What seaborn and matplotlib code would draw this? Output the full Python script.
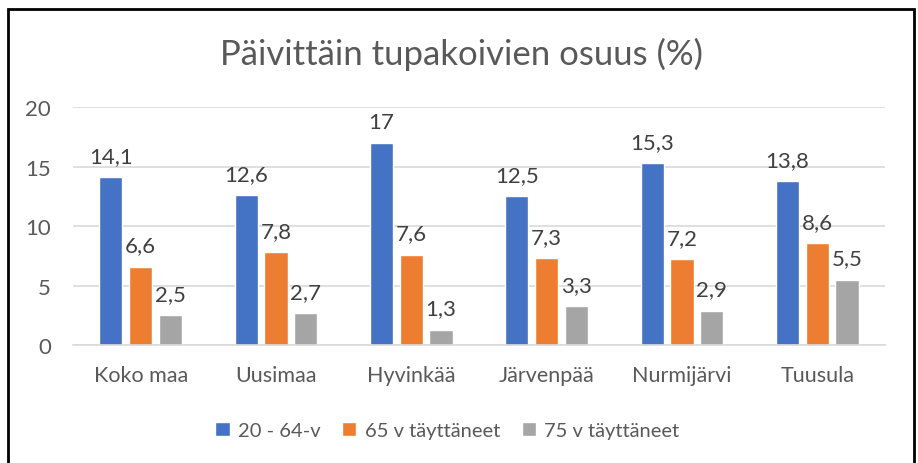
import pandas as pd
import matplotlib.pyplot as plt
import seaborn as sns
from matplotlib.patches import Rectangle

areas = ['Koko maa', 'Uusimaa', 'Hyvinkää', 'Järvenpää', 'Nurmijärvi', 'Tuusula']
series = ['20 - 64-v', '65 v täyttäneet', '75 v täyttäneet']
v_20_64 = [14.1, 12.6, 17, 12.5, 15.3, 13.8]
v_65 = [6.6, 7.8, 7.6, 7.3, 7.2, 8.6]
v_75 = [2.5, 2.7, 1.3, 3.3, 2.9, 5.5]
colors = ['#4472C4', '#ED7D31', '#A5A5A5']

rows = []
for s, vals in zip(series, [v_20_64, v_65, v_75]):
    for a, v in zip(areas, vals):
        rows.append({'alue': a, 'ryhmä': s, 'osuus': v})
df = pd.DataFrame(rows)

sns.set_style('white')
plt.rcParams['font.family'] = ['Lato', 'DejaVu Sans']
txt = '#595959'

fig = plt.figure(figsize=(9.18, 4.64), dpi=100)
ax = fig.add_axes([0.0795, 0.254, 0.8845, 0.513])

sns.barplot(data=df, x='alue', y='osuus', hue='ryhmä', palette=colors,
            width=0.66, gap=0.22, ax=ax, legend=True, saturation=1)

# arvot pilkulla
for cont in ax.containers:
    labels = []
    for bar in cont:
        h = bar.get_height()
        s = f'{h:g}'.replace('.', ',')
        labels.append(s)
    ax.bar_label(cont, labels=labels, padding=8, fontsize=16, color='#404040')

ax.set_ylim(0, 20)
ax.set_yticks([0, 5, 10, 15, 20])
ax.yaxis.grid(True, color='#D9D9D9', linewidth=1.2)
ax.set_axisbelow(True)
for sp in ['top', 'right', 'left']:
    ax.spines[sp].set_visible(False)
ax.spines['bottom'].set_color('#D9D9D9')
ax.spines['bottom'].set_linewidth(1.2)
ax.tick_params(axis='both', length=0, colors=txt)
ax.tick_params(axis='x', pad=14, labelsize=15.5)
ax.tick_params(axis='y', pad=16, labelsize=16)
ax.set_xlabel('')
ax.set_ylabel('')

ax.legend(loc='center', bbox_to_anchor=(0.461, -0.36), ncol=3, frameon=False,
          fontsize=14.5, labelcolor=txt, handlelength=0.7, handleheight=0.7,
          handletextpad=0.4, columnspacing=1.1)

fig.text(0.503, 0.882, 'Päivittäin tupakoivien osuus (%)', ha='center', va='center',
         fontsize=25, color=txt)

fig.patches.append(Rectangle((0.009, -0.1), 0.987, 1.078, transform=fig.transFigure,
                             fill=False, edgecolor='black', linewidth=2))

fig.savefig('out.png', dpi=100)
